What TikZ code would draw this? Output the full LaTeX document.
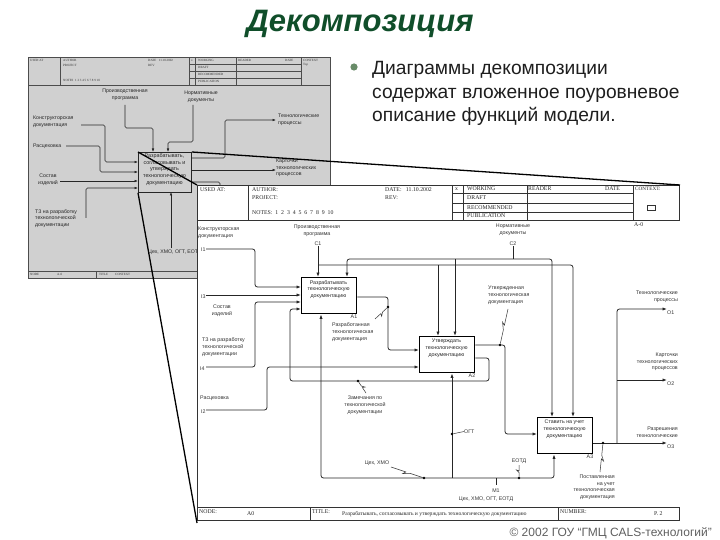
\documentclass[tikz,border=0pt]{standalone}
\usepackage{fontspec}
\setmainfont{Liberation Sans}
\newfontfamily\hdrserif{Liberation Serif}
\usetikzlibrary{arrows.meta,calc}
\definecolor{titlegreen}{RGB}{16,78,42}
\definecolor{bulletgreen}{RGB}{105,140,105}
\definecolor{smallbg}{RGB}{208,208,208}
\definecolor{maintxt}{RGB}{30,30,30}
\definecolor{copygray}{RGB}{95,95,95}
\tikzset{
 flow/.style={draw=black!85, line width=0.8pt, rounded corners=2.5pt},
 arr/.style={flow, -{Latex[length=4.5pt,width=3.2pt]}},
 arrb/.style={flow, {Latex[length=4.5pt,width=3.2pt]}-{Latex[length=4.5pt,width=3.2pt]}},
 sflow/.style={draw=black!85, line width=0.6pt, rounded corners=1.5pt},
 sarr/.style={sflow, -{Latex[length=3.5pt,width=2.6pt]}},
 fbox/.style={draw=black, line width=1.4pt, minimum width=55pt, minimum height=36pt, inner sep=0pt, anchor=north west},
 sbox/.style={draw=black!85, fill=smallbg, line width=0.8pt, minimum width=53pt, minimum height=40pt, inner sep=0pt, anchor=north west},
 btxt/.style={font=\fontsize{5.3}{6.6}\selectfont, align=center, inner sep=0pt, anchor=north, text=black!85},
 lab/.style={font=\fontsize{5.3}{6.8}\selectfont, inner sep=0pt, text=black!80},
 slab/.style={font=\fontsize{5.2}{6.6}\selectfont, inner sep=0pt, text=black!85},
 hdr/.style={font=\hdrserif\fontsize{5.8}{7}\selectfont, inner sep=0pt, anchor=west, text=black!85},
 shdr/.style={font=\hdrserif\fontsize{3.2}{4}\selectfont, inner sep=0pt, anchor=west, text=black!80},
 frame/.style={draw=black!80, line width=0.6pt},
 sframe/.style={draw=black!70, line width=0.4pt},
 dotp/.style={fill=black, circle, inner sep=0pt, minimum size=2.6pt},
 sq/.style={draw=black!80, line width=0.5pt},
 callout/.style={draw=black, line width=1.3pt},
}
\newcommand\mysquig[2]{%
 \coordinate (sqa) at ($(#1)!0.42!(#2)$);
 \coordinate (sqb) at ($(#1)!0.62!(#2)$);
 \coordinate (sqc) at ($(#1)!0.55!(#2)$);
 \draw[sq] (#1) -- (sqa) -- ($(sqb)!2.5pt!90:(#2)$) -- (sqc) -- (#2);}
\begin{document}
\begin{tikzpicture}[x=1pt,y=-1pt]
\useasboundingbox (0,0) rectangle (720,540);
% ---------- title and text
\node[font=\fontsize{31}{36}\selectfont\bfseries\itshape, text=titlegreen, inner sep=0pt, anchor=base] (title) at (360,32) {Декомпозиция};
\fill[bulletgreen] (354,67) circle (3.6);
\node[font=\fontsize{19.2}{23}\selectfont, text=maintxt, inner sep=0pt, anchor=base west] (b1) at (372,75) {Диаграммы декомпозиции};
\node[font=\fontsize{19.2}{23}\selectfont, text=maintxt, inner sep=0pt, anchor=base west] (b2) at (372,98.5) {содержат вложенное поуровневое};
\node[font=\fontsize{19.2}{23}\selectfont, text=maintxt, inner sep=0pt, anchor=base west] (b3) at (372,122) {описание функций модели.};
\node[font=\fontsize{12}{14}\selectfont, text=copygray, inner sep=0pt, anchor=base east] (copy) at (712,536) {© 2002 ГОУ “ГМЦ CALS-технологий”};

% ---------- small diagram
\fill[smallbg] (28,57) rectangle (330,278);
\draw[sframe] (28,57) rectangle (330,278);
\draw[sframe] (28,85) -- (330,85);
\foreach \x in {60,189,195,236,301} \draw[sframe] (\x,57) -- (\x,85);
\foreach \y in {64,71,78} \draw[sframe] (189,\y) -- (301,\y);
\node[shdr] (su) at (30,60.5) {USED AT};
\node[shdr] (sa) at (63,60.5) {AUTHOR};
\node[shdr] (sp) at (63,65) {PROJECT};
\node[shdr] (sn) at (63,80) {NOTES\ \ 1 2 3 4 5 6 7 8 9 10};
\node[shdr] (sd) at (148,60.5) {DATE\ \ \ 11.10.2002};
\node[shdr] (sr) at (148,65) {REV};
\node[shdr] (sx) at (191,60.5) {x};
\node[shdr] (sw) at (198,60.5) {WORKING};
\node[shdr] (sdr) at (198,67.5) {DRAFT};
\node[shdr] (src) at (198,74.5) {RECOMMENDED};
\node[shdr] (spu) at (198,81.5) {PUBLICATION};
\node[shdr] (srd) at (238,60.5) {READER};
\node[shdr] (sdt) at (285,60.5) {DATE};
\node[shdr] (sct) at (303,60.5) {CONTEXT};
\node[shdr] (stp) at (303,65) {Top};
\draw[sframe] (28,271) -- (330,271);
\draw[sframe] (96,271) -- (96,278);
\node[shdr] (snd) at (30,274.5) {NODE};
\node[shdr] (sa0) at (57,274.5) {A-0};
\node[shdr] (sti) at (99,274.5) {TITLE};
\node[shdr] (sco) at (115,274.5) {CONTEXT};

\node[sbox] (S0) at (138,152) {};
\node[btxt, font=\fontsize{5.4}{6.9}\selectfont] (S0t) at (164.5,153) {Разрабатывать,\\согласовывать и\\утверждать\\технологическую\\документацию};

\node[slab, align=center, anchor=north] (sprog) at (125,89) {Производственная\\программа};
\node[slab, align=center, anchor=north] (snorm) at (201,91) {Нормативные\\документы};
\node[slab, align=left, anchor=north west] (skd) at (33,116) {Конструкторская\\документация};
\node[slab, anchor=west] (src2) at (33,146) {Расцеховка};
\node[slab, align=center, anchor=north] (ssost) at (48,174) {Состав\\изделий};
\node[slab, align=left, anchor=north west] (stz) at (35,209) {ТЗ на разработку\\технологической\\документации};
\node[slab, align=left, anchor=north west] (stp2) at (278,114) {Технологические\\процессы};
\node[slab, align=left, anchor=north west] (skart) at (276,159) {Карточки\\технологических\\процессов};
\node[slab, anchor=west] (smech) at (148,252) {Цех, ХМО, ОГТ, ЕОТД};

\draw[sarr] (81,125) -- (105,125) -- (105,162) -- (S0.west|-0,162);
\draw[sarr] (66,146) -- (100,146) -- (100,172) -- (S0.west|-0,172);
\draw[sarr] (60,181) -- (S0.west|-0,181);
\draw[sarr] (86,218) -- (86,188) -- (S0.west|-0,188);
\draw[sarr] (125,105) -- (125,128) -- (153,128) -- (153,152);
\draw[sarr] (193,105) -- (193,142) -- (168,142) -- (168,152);
\draw[sarr] (S0.east|-0,158) -- (225,158) -- (225,120) -- (276,120);
\draw[sarr] (S0.east|-0,170) -- (276,170);
\draw[sflow] (S0.east|-0,182) -- (220,182) -- (220,192);
\draw[sarr] (171,248) -- (171,192);

% ---------- big diagram
\fill[white] (197,185) rectangle (679,521);
\draw[frame] (197,185) rectangle (679,220);
\foreach \x in {248,452,463,527,633} \draw[frame] (\x,185) -- (\x,220);
\foreach \y in {193,203,212} \draw[frame] (452,\y) -- (633,\y);
\draw[frame] (197,220) -- (197,507);
\draw[frame] (197,507) rectangle (679,520);
\draw[frame] (310,507) -- (310,520);
\draw[frame] (558,507) -- (558,520);
\draw[frame] (647,205) rectangle (655,210);

\node[hdr] (hu) at (200,190) {USED AT:};
\node[hdr] (ha) at (252,190) {AUTHOR:};
\node[hdr] (hp) at (252,198) {PROJECT:};
\node[hdr] (hn) at (252,213) {NOTES:\ \ 1\ \ 2\ \ 3\ \ 4\ \ 5\ \ 6\ \ 7\ \ 8\ \ 9\ \ 10};
\node[hdr] (hd) at (385,190) {DATE:\ \ \ 11.10.2002};
\node[hdr] (hr) at (385,198) {REV:};
\node[hdr] (hx) at (455,189) {x};
\node[hdr] (hw) at (467,189) {WORKING};
\node[hdr] (hdr2) at (467,198) {DRAFT};
\node[hdr] (hrc) at (467,207.5) {RECOMMENDED};
\node[hdr] (hpu) at (467,216) {PUBLICATION};
\node[hdr] (hrd) at (528,189) {READER};
\node[hdr] (hdt) at (605,189) {DATE};
\node[hdr, font=\hdrserif\fontsize{5.2}{6}\selectfont] (hct) at (635,189) {CONTEXT:};
\node[hdr] (ham) at (634,224.5) {A-0};
\node[hdr] (fnd) at (199,512) {NODE:};
\node[hdr] (fa0) at (247,513.5) {A0};
\node[hdr] (fti) at (312,511.5) {TITLE:};
\node[hdr, font=\hdrserif\fontsize{5.6}{7}\selectfont] (ftt) at (342,514) {Разрабатывать, согласовывать и утверждать технологическую документацию};
\node[hdr] (fnu) at (560,511.5) {NUMBER:};
\node[hdr] (fp) at (654,514) {P. 2};

% boxes
\node[fbox] (A1) at (301,277) {};
\node[btxt] (A1t) at (328.5,280) {Разрабатывать\\технологическую\\документацию};
\node[lab, anchor=north east] (A1n) at (A1.south east) {A1};
\node[fbox] (A2) at (419,336) {};
\node[btxt] (A2t) at (446.5,339) {Утверждать\\технологическую\\документацию};
\node[lab, anchor=north east] (A2n) at (A2.south east) {A2};
\node[fbox] (A3) at (537,417) {};
\node[btxt] (A3t) at (564.5,420) {Ставить на учет\\технологическую\\документацию};
\node[lab, anchor=north east] (A3n) at (A3.south east) {A3};

% labels
\node[lab, align=left, anchor=north west] (kd) at (198,226.5) {Конструкторская\\документация};
\node[lab, align=center, anchor=north] (prog) at (317,224.5) {Производственная\\программа};
\node[lab] (C1) at (318,244) {C1};
\node[lab, align=center, anchor=north] (norm) at (513,223.5) {Нормативные\\документы};
\node[lab] (C2) at (513,244) {C2};
\node[lab, anchor=west] (I1) at (201,250) {I1};
\node[lab, anchor=west] (I3) at (201,297) {I3};
\node[lab, align=center, anchor=north] (sost) at (222,304.5) {Состав\\изделий};
\node[lab, align=left, anchor=north west] (tz) at (202,337.5) {ТЗ на разработку\\технологической\\документации};
\node[lab, anchor=west] (I4) at (200,368.5) {I4};
\node[lab, anchor=west] (rc) at (200,398) {Расцеховка};
\node[lab, anchor=west] (I2) at (201,412) {I2};
\node[lab, align=left, anchor=north west] (rtd) at (332,322.5) {Разработанная\\технологическая\\документация};
\node[lab, align=left, anchor=north west] (utd) at (488,286) {Утвержденная\\технологическая\\документация};
\node[lab, align=center, anchor=north] (zam) at (365,395.5) {Замечания по\\технологической\\документации};
\node[lab] (ceh) at (377,463) {Цех, ХМО};
\node[lab, anchor=west] (ogt) at (464,431.5) {ОГТ};
\node[lab] (eotd) at (519,461) {ЕОТД};
\node[lab] (M1) at (496,491) {M1};
\node[lab] (mech) at (486,499.5) {Цех, ХМО, ОГТ, ЕОТД};
\node[lab, align=right, anchor=north east] (ptd) at (615,474.5) {Поставленная\\на учет\\технологическая\\документация};
\node[lab, align=right, anchor=north east] (tp) at (678,290.5) {Технологические\\процессы};
\node[lab, anchor=west] (O1) at (667,312.5) {O1};
\node[lab, align=right, anchor=north east] (kart) at (678,352.5) {Карточки\\технологических\\процессов};
\node[lab, anchor=west] (O2) at (667,383.5) {O2};
\node[lab, align=right, anchor=north east] (razr) at (678,426.5) {Разрешения\\технологические};
\node[lab, anchor=west] (O3) at (667,446.5) {O3};

% inputs
\draw[arr] (206,249) -- (255,249) -- (255,287) -- (A1.west|-0,287);
\draw[arr] (206,295) -- (A1.west|-0,295);
\draw[arr] (206,367) -- (255,367) -- (255,302) -- (A1.west|-0,302);
\draw[arr] (A2.east|-0,358) -- (489,358) -- (489,381) -- (290,381) -- (290,309) -- (A1.west|-0,309);
\draw[arr] (206,410) -- (267,410) -- (267,367) -- (A2.west|-0,367);
\draw[arr] (A1.east|-0,297) -- (388,297) -- (388,350) -- (A2.west|-0,350);
\draw[arr] (A2.east|-0,345) -- (505,345) -- (505,434) -- (A3.west|-0,434);
% controls
\draw[arr] (C1.south) -- (A1.north-|318,0);
\draw[arr] (318,265) -- (573,265) -- (A3.north-|573,0);
\draw[arr] (438,265) -- (A2.north-|438,0);
\draw[flow] (C2.south) -- (513,259);
\draw[arrb] (A1.north-|347,0) -- (347,259) -- (552,259) -- (A3.north-|552,0);
\draw[arr] (455,259) -- (A2.north-|455,0);
% mechanisms
\draw[arrb] (A1.south-|321,0) -- (321,478) -- (554,478) -- (A3.south-|554,0);
\draw[arr] (452,478) -- (A2.south-|452,0);
\draw[flow] (496,478) -- (496,485);
% outputs
\draw[arr] (A3.east|-0,443) -- (667,443);
\draw[arr] (617,443) -- (617,309) -- (667,309);
\draw[arr] (617,380) -- (667,380);

% dots and squiggles
\node[dotp] (d1) at (388,307) {};
\node[dotp] (d2) at (500,345) {};
\node[dotp] (d3) at (358,381) {};
\node[dotp] (d4) at (424,478) {};
\node[dotp] (d5) at (452,434) {};
\node[dotp] (d6) at (519,478) {};
\node[dotp] (d7) at (603,443) {};
\coordinate (e1) at (375,319);
\coordinate (e2) at (508,309);
\coordinate (e3) at (366,393);
\coordinate (e4) at (391,467);
\coordinate (e6) at (519,465);
\coordinate (e7) at (600,472);
\mysquig{d1}{e1}
\mysquig{d2}{e2}
\mysquig{d3}{e3}
\mysquig{d4}{e4}
\mysquig{d6}{e6}
\mysquig{d7}{e7}
\draw[sq] (d5) -- (ogt.west);

% callout lines
\draw[callout] (S0.north west) -- (197,185);
\draw[callout] (S0.north east) -- (680,185);
\draw[callout] (S0.south west) -- (197,523);
\end{tikzpicture}
\end{document}
